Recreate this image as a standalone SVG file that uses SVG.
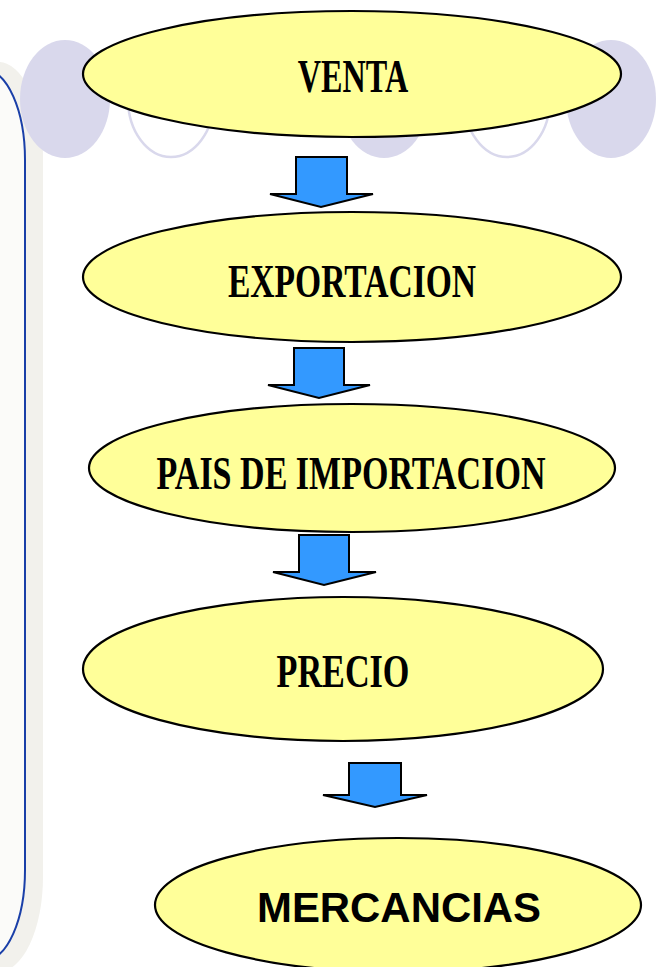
<svg xmlns="http://www.w3.org/2000/svg" width="656" height="967" viewBox="0 0 656 967">
<style>
.deco{fill:#d9d8ec}
.decoO{fill:none;stroke:#d9d8ec;stroke-width:2.5}
.node{fill:#ffff99;stroke:#000;stroke-width:2.2}
.t{font-family:"Liberation Serif","Times New Roman",serif;font-weight:bold;font-size:46px;fill:#000;text-anchor:middle}
.s{font-family:"Liberation Sans",Arial,sans-serif;font-weight:bold;font-size:42px;fill:#000;text-anchor:middle}
.arr{fill:#3399ff;stroke:#000;stroke-width:2;stroke-linejoin:miter}
</style>
<rect width="656" height="967" fill="#fff"/>
<g id="panel">
<rect x="-100" y="62" width="143" height="910" rx="45" ry="95" fill="#f2f1ec"/>
<rect x="-100" y="70" width="125" height="890" rx="40" ry="90" fill="#fbfbf9" stroke="#1a3fa8" stroke-width="2"/>
</g>
<g id="decoration">
<ellipse class="deco" cx="65" cy="99" rx="45" ry="59"/>
<ellipse class="decoO" cx="171" cy="99" rx="43" ry="58"/>
<ellipse class="deco" cx="384" cy="99" rx="45" ry="59"/>
<ellipse class="decoO" cx="507" cy="99" rx="43" ry="58"/>
<ellipse class="deco" cx="611" cy="99" rx="45" ry="59"/>
</g>
<g id="connectors">
<polygon class="arr" points="296,157 347,157 347,194 373,194 321,207 270,194 296,194"/>
<polygon class="arr" points="294,348 344,348 344,385 370,385 319,398 268,385 294,385"/>
<polygon class="arr" points="299,535 349,535 349,572 376,572 324,585 273,572 299,572"/>
<polygon class="arr" points="349,763 401,763 401,795 427,795 375,807 323,795 349,795"/>
</g>
<g id="venta">
<ellipse class="node" cx="352" cy="74" rx="269" ry="63"/>
<text class="t" transform="translate(353,92) scale(0.70,1)">VENTA</text>
</g>
<g id="exportacion">
<ellipse class="node" cx="352" cy="277" rx="269" ry="65"/>
<text class="t" transform="translate(352,297) scale(0.73,1)">EXPORTACION</text>
</g>
<g id="pais">
<ellipse class="node" cx="352" cy="468" rx="263" ry="64"/>
<text class="t" transform="translate(351,489) scale(0.74,1)">PAIS DE IMPORTACION</text>
</g>
<g id="precio">
<ellipse class="node" cx="343" cy="669" rx="260" ry="72"/>
<text class="t" transform="translate(343,687) scale(0.743,1)">PRECIO</text>
</g>
<g id="mercancias">
<ellipse class="node" cx="398" cy="905" rx="243" ry="67"/>
<text class="s" x="399" y="922" textLength="284" lengthAdjust="spacingAndGlyphs">MERCANCIAS</text>
</g>
</svg>
